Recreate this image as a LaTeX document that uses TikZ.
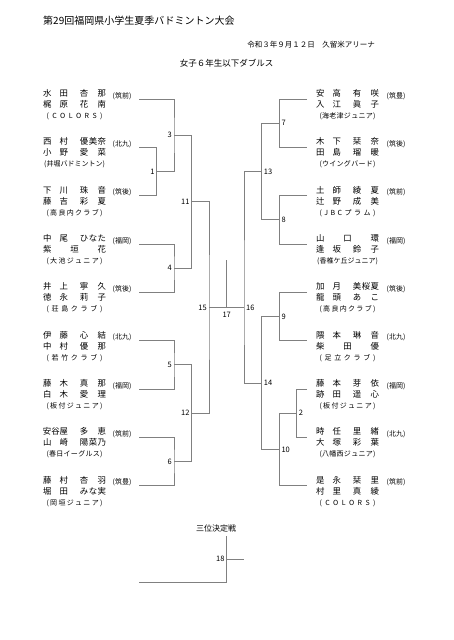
\documentclass[tikz,border=0pt]{standalone}
\usepackage{fontspec}
\setmainfont{Noto Sans CJK JP}
\usetikzlibrary{positioning}

% spread the characters of a word over its box
\makeatletter
\def\spreadchars#1{\spr@a#1\relax}
\def\spr@a#1#2{#1\ifx\relax#2\expandafter\@gobble\else\hfill\expandafter\@firstofone\fi{\spr@a#2}}
\makeatother
\newcommand\nm[2]{\makebox[25pt]{\spreadchars{#1}}\hspace{12pt}\makebox[26pt]{\spreadchars{#2}}}
\newcommand\nmw[1]{\makebox[63pt]{\spreadchars{#1}}}
\newcommand\clubname[1]{{\fontsize{7}{11}\selectfont\makebox[56pt]{\expandafter\spreadchars\expandafter{#1}}}}

\begin{document}
\begin{tikzpicture}[
  x=1pt, y=-1pt,
  entry/.style={align=center, inner sep=0pt, font=\fontsize{8.4}{11}\selectfont},
  pref/.style={inner sep=0pt, font=\fontsize{7}{8}\selectfont},
  num/.style={inner sep=0.5pt, font=\fontsize{7.5}{8}\selectfont},
  br/.style={draw=gray, line width=0.7pt}
]
\useasboundingbox (0,0) rectangle (453,640);
\node[anchor=west, inner sep=0pt, font=\fontsize{10}{12}\selectfont] (title) at (43,21) {第29回福岡県小学生夏季バドミントン大会};
\node[anchor=east, inner sep=0pt, font=\fontsize{7.5}{9}\selectfont] (date) at (375,45) {令和３年９月１２日　久留米アリーナ};
\node[font=\fontsize{8.5}{10}\selectfont] (event) at (226.5,63) {女子６年生以下ダブルス};

% left half
\foreach \i/\y/\na/\nb/\cl/\pr in {
  1/99/{\nm{水田}{杏那}}/{\nm{梶原}{花南}}/(COLORS)/筑前,
  2/147.3/{\nm{西村}{優美奈}}/{\nm{小野}{愛菜}}/(井堀バドミントン)/北九,
  3/195.7/{\nm{下川}{珠音}}/{\nm{藤吉}{彩夏}}/(高良内クラブ)/筑後,
  4/244/{\nm{中尾}{ひなた}}/{\nmw{紫垣花}}/(大池ジュニア)/福岡,
  5/292.3/{\nm{井上}{寧久}}/{\nm{徳永}{莉子}}/(荘島クラブ)/筑後,
  6/340.7/{\nm{伊藤}{心結}}/{\nm{中村}{優那}}/(若竹クラブ)/北九,
  7/389/{\nm{藤木}{真那}}/{\nm{白木}{愛理}}/(板付ジュニア)/福岡,
  8/437.3/{\nm{安谷屋}{多恵}}/{\nm{山崎}{陽菜乃}}/(春日イーグルス)/筑前,
  9/485.7/{\nm{藤村}{杏羽}}/{\nm{堀田}{みな実}}/(岡垣ジュニア)/筑豊}{
  \node[entry] (l\i) at (74.5,\y+5.5) {\na\\\nb\\\clubname{\cl}};
  \node[pref] (lp\i) at (122,\y-3) {(\pr)};
  \coordinate (la\i) at (139,\y);
}

% right half
\foreach \i/\y/\na/\nb/\cl/\pr in {
  1/99/{\nm{安高}{有咲}}/{\nm{入江}{眞子}}/(海老津ジュニア)/筑豊,
  2/147.3/{\nm{木下}{栞奈}}/{\nm{田島}{瑠暖}}/(ウイングバード)/筑後,
  3/195.7/{\nm{土師}{綾夏}}/{\nm{辻野}{成美}}/(JBCプラム)/筑前,
  4/244/{\nmw{山口環}}/{\nm{逢坂}{鈴子}}/(香椎ケ丘ジュニア)/福岡,
  5/292.3/{\nm{加月}{美桜夏}}/{\nm{龍頭}{あこ}}/(高良内クラブ)/筑後,
  6/340.7/{\nm{隈本}{琳音}}/{\nmw{柴田優}}/(足立クラブ)/北九,
  7/389/{\nm{藤本}{芽依}}/{\nm{跡田}{遥心}}/(板付ジュニア)/福岡,
  8/437.3/{\nm{時任}{里緒}}/{\nm{大塚}{彩葉}}/(八幡西ジュニア)/北九,
  9/485.7/{\nm{是永}{栞里}}/{\nm{村里}{真綾}}/(COLORS)/筑前}{
  \node[entry] (r\i) at (347.5,\y+5.5) {\na\\\nb\\\clubname{\cl}};
  \node[pref] (rp\i) at (396,\y-3) {(\pr)};
  \coordinate (ra\i) at (307,\y);
}

% match joints
\coordinate (m1) at (156.7,171.5);
\coordinate (m3) at (174,135.3);
\coordinate (m4) at (174,268.2);
\coordinate (m11) at (191.7,201.7);
\coordinate (m5) at (174,364.8);
\coordinate (m6) at (174,461.5);
\coordinate (m12) at (191.7,413.2);
\coordinate (m15) at (209,307.4);
\coordinate (m7) at (279.3,123.2);
\coordinate (m8) at (279.3,219.8);
\coordinate (m13) at (261.7,171.5);
\coordinate (m9) at (279.3,316.5);
\coordinate (m2) at (296.7,413.2);
\coordinate (m10) at (279.3,449.4);
\coordinate (m14) at (261.7,383);
\coordinate (m16) at (244,307.4);
\coordinate (m17) at (226.7,307.4);
\coordinate (t17) at (226.7,260);

\draw[br] (la2) -| (m1) |- (la3);
\draw[br] (la1) -| (m3) |- (m1);
\draw[br] (la4) -| (m4) |- (la5);
\draw[br] (m3) -| (m11) |- (m4);
\draw[br] (la6) -| (m5) |- (la7);
\draw[br] (la8) -| (m6) |- (la9);
\draw[br] (m5) -| (m12) |- (m6);
\draw[br] (m11) -| (m15) |- (m12);
\draw[br] (ra1) -| (m7) |- (ra2);
\draw[br] (ra3) -| (m8) |- (ra4);
\draw[br] (m7) -| (m13) |- (m8);
\draw[br] (ra5) -| (m9) |- (ra6);
\draw[br] (ra7) -| (m2) |- (ra8);
\draw[br] (m2) -| (m10) |- (ra9);
\draw[br] (m9) -| (m14) |- (m10);
\draw[br] (m13) -| (m16) |- (m14);
\draw[br] (m15) -- (m16);
\draw[br] (t17) -- (m17);

\foreach \m in {1,3,4,11,5,6,12,15}
  \node[num, left=1.5pt of m\m] (n\m) {\m};
\foreach \m in {7,8,13,9,2,10,14,16}
  \node[num, right=1.5pt of m\m] (n\m) {\m};
\node[num, below=4pt of m17] (n17) {17};

% third place
\node[font=\fontsize{8}{10}\selectfont] (third) at (216,528) {三位決定戦};
\coordinate (t18) at (226.7,536);
\coordinate (b18) at (139.3,582.7);
\coordinate (m18) at (226.7,559.3);
\coordinate (o18) at (244,559.3);
\draw[br] (t18) |- (b18);
\draw[br] (m18) -- (o18);
\node[num, left=1.5pt of m18] (n18) {18};
\end{tikzpicture}
\end{document}
